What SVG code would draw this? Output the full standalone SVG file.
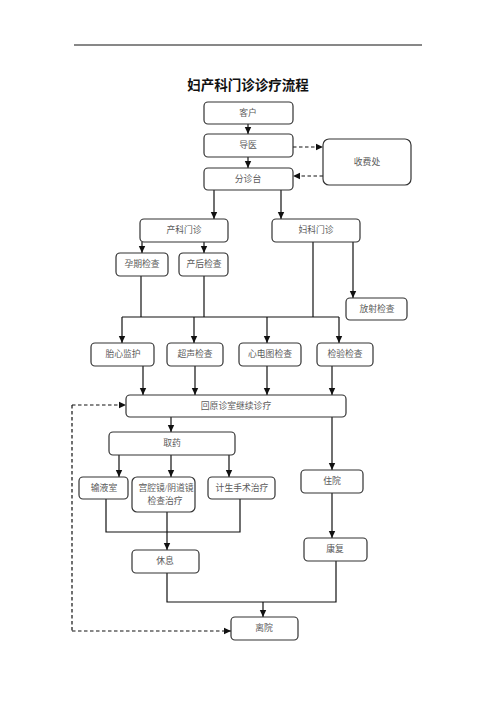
<svg xmlns="http://www.w3.org/2000/svg" width="496" height="702" viewBox="0 0 496 702">
<defs>
<marker id="ah" markerWidth="8" markerHeight="8" refX="7" refY="4" orient="auto" markerUnits="userSpaceOnUse">
<path d="M0,0.8 L7,4 L0,7.2 Z" fill="#111"/>
</marker>
</defs>
<style>
.box{fill:#fff;stroke:#333;stroke-width:1.2}
.t{font-family:"Liberation Serif","Noto Sans CJK SC",serif;font-size:8.8px;fill:#5a5a5a;text-anchor:middle;dominant-baseline:central}
.ln{fill:none;stroke:#111;stroke-width:1.2}
.ar{fill:none;stroke:#111;stroke-width:1.2;marker-end:url(#ah)}
.dl{fill:none;stroke:#111;stroke-width:1.2;stroke-dasharray:3.5,2.5}
.da{fill:none;stroke:#111;stroke-width:1.2;stroke-dasharray:3.5,2.5;marker-end:url(#ah)}
</style>
<rect width="496" height="702" fill="#fff"/>
<line x1="74" y1="45" x2="422" y2="45" stroke="#111" stroke-width="1"/>
<text x="248" y="84" font-family="'Noto Sans CJK SC',sans-serif" font-size="13.5" font-weight="bold" fill="#111" text-anchor="middle" dominant-baseline="central">妇产科门诊诊疗流程</text>

<g id="connectors">
<path class="ar" d="M248,124 V134"/>
<path class="ar" d="M248,157 V168"/>
<path class="da" d="M293,147 H323"/>
<path class="da" d="M323,176 H293"/>
<path class="ar" d="M214,190 V219"/>
<path class="ar" d="M281,190 V219"/>
<path class="ar" d="M142,242 V253"/>
<path class="ar" d="M204,242 V253"/>
<path class="ar" d="M353,242 V298"/>
<path class="ln" d="M313,242 V317"/>
<path class="ln" d="M141,276 V317"/>
<path class="ln" d="M204,276 V317"/>
<path class="ln" d="M122,317 H339"/>
<path class="ar" d="M122,317 V343"/>
<path class="ar" d="M194,317 V343"/>
<path class="ar" d="M267,317 V343"/>
<path class="ar" d="M339,317 V343"/>
<path class="ar" d="M143,366 V395"/>
<path class="ar" d="M195,366 V395"/>
<path class="ar" d="M267,366 V395"/>
<path class="ar" d="M332,366 V395"/>
<path class="dl" d="M72,405 V631"/>
<path class="da" d="M72,631 H231"/>
<path class="da" d="M72,405 H126"/>
<path class="ar" d="M171,417 V432"/>
<path class="ar" d="M332,417 V470"/>
<path class="ar" d="M119,455 V477"/>
<path class="ar" d="M171,455 V477"/>
<path class="ar" d="M229,455 V477"/>
<path class="ln" d="M106,499 V532 H240 V499"/>
<path class="ar" d="M167,512 V550"/>
<path class="ar" d="M332,493 V538"/>
<path class="ln" d="M167,573 V602 H336 V561"/>
<path class="ar" d="M263,602 V617"/>
</g>

<g id="n_kehu"><rect class="box" x="204" y="102" width="89" height="22" rx="4"/><text class="t" x="248" y="113">客户</text></g>
<g id="n_daoyi"><rect class="box" x="204" y="134" width="89" height="23" rx="4"/><text class="t" x="248" y="145">导医</text></g>
<g id="n_fenzhen"><rect class="box" x="204" y="168" width="89" height="22" rx="4"/><text class="t" x="248" y="179">分诊台</text></g>
<g id="n_shoufei"><rect class="box" x="323" y="139" width="88" height="46" rx="6"/><text class="t" x="367" y="162">收费处</text></g>
<g id="n_chanke"><rect class="box" x="140" y="219" width="88" height="23" rx="4"/><text class="t" x="184" y="230">产科门诊</text></g>
<g id="n_fuke"><rect class="box" x="272" y="219" width="88" height="23" rx="4"/><text class="t" x="316" y="230">妇科门诊</text></g>
<g id="n_yunqi"><rect class="box" x="116" y="253" width="52" height="23" rx="4"/><text class="t" x="142" y="264">孕期检查</text></g>
<g id="n_chanhou"><rect class="box" x="179" y="253" width="49" height="23" rx="4"/><text class="t" x="204" y="264">产后检查</text></g>
<g id="n_fangshe"><rect class="box" x="346" y="298" width="61" height="22" rx="4"/><text class="t" x="377" y="309">放射检查</text></g>
<g id="n_taixin"><rect class="box" x="91" y="343" width="63" height="23" rx="4"/><text class="t" x="123" y="354">胎心监护</text></g>
<g id="n_chaosheng"><rect class="box" x="167" y="343" width="56" height="23" rx="4"/><text class="t" x="195" y="354">超声检查</text></g>
<g id="n_xindian"><rect class="box" x="239" y="343" width="62" height="23" rx="4"/><text class="t" x="270" y="354">心电图检查</text></g>
<g id="n_jianyan"><rect class="box" x="317" y="343" width="56" height="23" rx="4"/><text class="t" x="345" y="354">检验检查</text></g>
<g id="n_huiyuan"><rect class="box" x="126" y="395" width="220" height="22" rx="4"/><text class="t" x="236" y="406">回原诊室继续诊疗</text></g>
<g id="n_quyao"><rect class="box" x="109" y="432" width="126" height="23" rx="4"/><text class="t" x="172" y="443">取药</text></g>
<g id="n_zhuyuan"><rect class="box" x="301" y="470" width="62" height="23" rx="4"/><text class="t" x="332" y="481">住院</text></g>
<g id="n_shuye"><rect class="box" x="79" y="477" width="49" height="22" rx="4"/><text class="t" x="104" y="488">输液室</text></g>
<g id="n_gongqiang"><rect class="box" x="132" y="477" width="63" height="35" rx="5"/><text class="t" x="166" y="488">宫腔镜/阴道镜</text><text class="t" x="165" y="501">检查治疗</text></g>
<g id="n_jisheng"><rect class="box" x="208" y="477" width="67" height="22" rx="4"/><text class="t" x="242" y="488">计生手术治疗</text></g>
<g id="n_kangfu"><rect class="box" x="304" y="538" width="63" height="23" rx="4"/><text class="t" x="335" y="549">康复</text></g>
<g id="n_xiuxi"><rect class="box" x="132" y="550" width="67" height="23" rx="4"/><text class="t" x="165" y="561">休息</text></g>
<g id="n_liyuan"><rect class="box" x="231" y="617" width="67" height="23" rx="4"/><text class="t" x="264" y="628">离院</text></g>
</svg>
